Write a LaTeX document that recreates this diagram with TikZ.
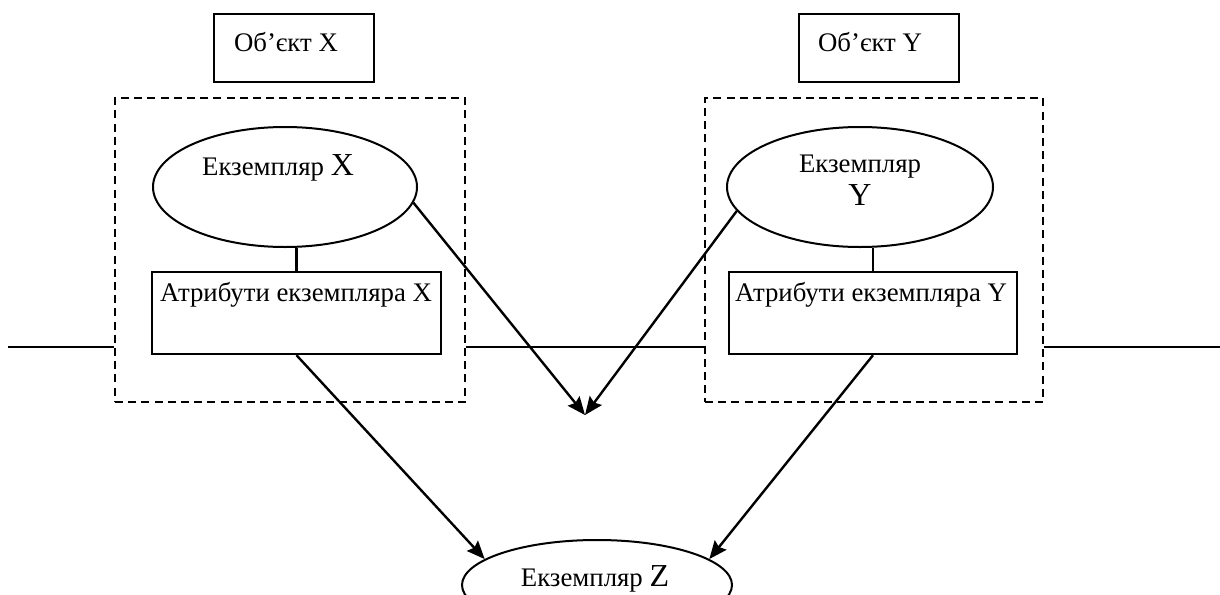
\documentclass[tikz,border=0pt]{standalone}
\usepackage{fontspec}
\setmainfont{Liberation Serif}
\usetikzlibrary{shapes.geometric,arrows.meta}
\begin{document}
\begin{tikzpicture}[x=0.5pt,y=-0.5pt,
  solidbox/.style={draw,line width=1.2pt,rectangle,inner sep=0pt},
  dashbox/.style={draw,line width=1.1pt,rectangle,inner sep=0pt,dash pattern=on 4pt off 2.6pt},
  oval/.style={draw,line width=1pt,ellipse,inner sep=0pt},
  txt/.style={inner sep=0pt,anchor=base,font=\fontsize{13.4}{15}\selectfont},
  big/.style={font=\fontsize{16}{18}\selectfont},
  conn/.style={line width=1.2pt},
  arr/.style={line width=1.2pt,-{Stealth[length=9pt,width=7.5pt,inset=1.3pt]}}]
\clip (0,0) rectangle (1220,594);
\path[use as bounding box] (0,0) rectangle (1220,594);
% top object boxes
\node[solidbox,minimum width=80pt,minimum height=34pt] (objX) at (294,48) {};
\node[solidbox,minimum width=80pt,minimum height=34pt] (objY) at (879,48) {};
\node[txt] (objXt) at (286,51) {Об’єкт X};
\node[txt] (objYt) at (870,51) {Об’єкт Y};
% dashed groups
\node[dashbox,minimum width=175pt,minimum height=152pt] (dashX) at (290,250) {};
\node[dashbox,minimum width=169pt,minimum height=152pt] (dashY) at (874,250) {};
% instance ellipses
\node[oval,minimum width=132pt,minimum height=60pt] (eX) at (285,187) {};
\node[oval,minimum width=133pt,minimum height=60pt] (eY) at (860,187) {};
\node[txt] (eXt) at (278,175) {Екземпляр {\fontsize{16}{18}\selectfont X}};
\node[txt] (eYt1) at (860,172) {Екземпляр};
\node[txt,big] (eYt2) at (860,205) {Y};
% attribute boxes
\node[solidbox,minimum width=144.5pt,minimum height=41pt] (aX) at (296.5,313) {};
\node[solidbox,minimum width=144pt,minimum height=41pt] (aY) at (873,313) {};
\node[txt] (aXt) at (296,301) {Атрибути екземпляра X};
\node[txt] (aYt) at (871,301) {Атрибути екземпляра Y};
% bottom ellipse
\node[oval,minimum width=135pt,minimum height=45pt] (eZ) at (597,585) {};
\node[txt] (eZt) at (595,586) {Екземпляр {\fontsize{16}{18}\selectfont Z}};
% connectors
\draw[conn] (aX.north) -- (aX.north |- eX.south);
\draw[conn] (aY.north) -- (aY.north |- eY.south);
\coordinate (L) at (8,347);
\coordinate (R) at (1220,347);
\coordinate (M) at (585,415);
\draw[conn] (L) -- (dashX.west |- L);
\draw[conn] (dashX.east |- L) -- (dashY.west |- L);
\draw[conn] (dashY.east |- L) -- (R);
\draw[arr] (eX.-7) -- (M);
\draw[arr] (eY.191) -- (M);
\draw[arr] (aX.south) -- (eZ.167);
\draw[arr] (aY.south) -- (eZ.13);
\end{tikzpicture}
\end{document}
